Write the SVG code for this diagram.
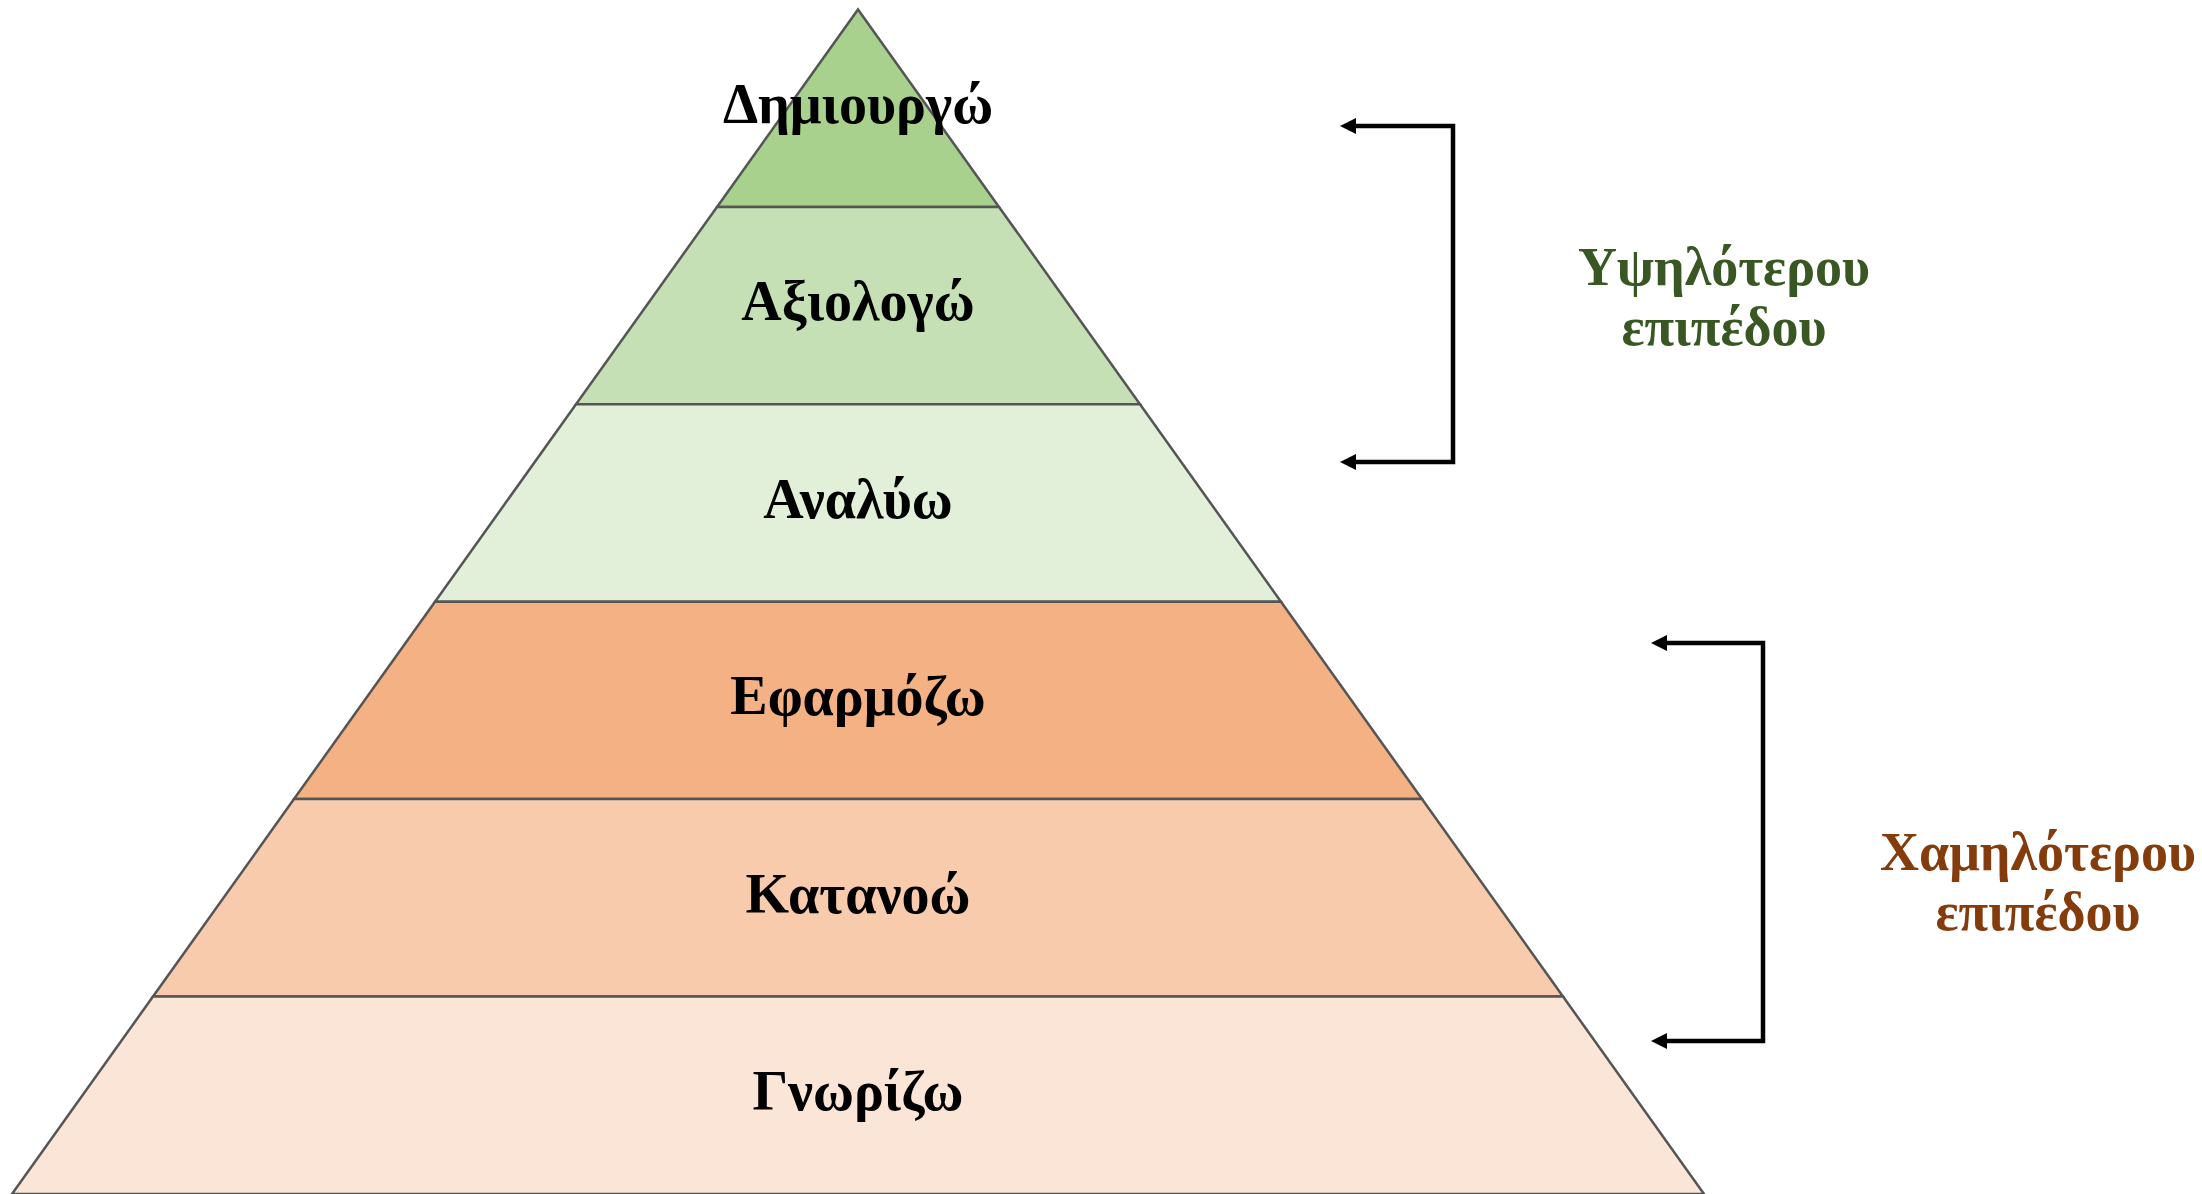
<svg xmlns="http://www.w3.org/2000/svg" width="2202" height="1194" viewBox="0 0 2202 1194">
<style>
.layer{stroke:#555555;stroke-width:2.5;stroke-linejoin:miter}
.lbl{font-family:"Liberation Serif","Times New Roman",serif;font-weight:bold;font-size:56px;text-anchor:middle;fill:#000}
.side{font-family:"Liberation Serif","Times New Roman",serif;font-weight:bold;font-size:54px;text-anchor:middle}
.br{fill:none;stroke:#000;stroke-width:4.5;stroke-linejoin:miter}
</style>
<defs>
<marker id="ah" viewBox="0 0 16 16" refX="2" refY="8" markerWidth="16" markerHeight="16" markerUnits="userSpaceOnUse" orient="auto">
<path d="M0,0 L16,8 L0,16 z" fill="#000"/>
</marker>
</defs>
<rect width="2202" height="1194" fill="#fff"/>
<g id="layer-1">
<polygon class="layer" fill="#A9D18E" points="858,9.5 999,206.9 717,206.9"/>
<text class="lbl" x="858" y="123">Δημιουργώ</text>
</g>
<g id="layer-2">
<polygon class="layer" fill="#C5E0B4" points="717,206.9 999,206.9 1140,404.3 576,404.3"/>
<text class="lbl" x="858" y="320">Αξιολογώ</text>
</g>
<g id="layer-3">
<polygon class="layer" fill="#E2F0D9" points="576,404.3 1140,404.3 1281,601.7 435,601.7"/>
<text class="lbl" x="858" y="518">Αναλύω</text>
</g>
<g id="layer-4">
<polygon class="layer" fill="#F4B183" points="435,601.7 1281,601.7 1422,799.1 294,799.1"/>
<text class="lbl" x="858" y="715">Εφαρμόζω</text>
</g>
<g id="layer-5">
<polygon class="layer" fill="#F8CBAD" points="294,799.1 1422,799.1 1563,996.5 153,996.5"/>
<text class="lbl" x="858" y="913">Κατανοώ</text>
</g>
<g id="layer-6">
<polygon class="layer" fill="#FBE5D6" points="153,996.5 1563,996.5 1704,1194 12,1194"/>
<text class="lbl" x="858" y="1110">Γνωρίζω</text>
</g>
<g id="label-high">
<text class="side" fill="#385723" x="1724" y="285">Υψηλότερου</text>
<text class="side" fill="#385723" x="1724" y="345">επιπέδου</text>
</g>
<g id="label-low">
<text class="side" fill="#843C0C" x="2038" y="870">Χαμηλότερου</text>
<text class="side" fill="#843C0C" x="2038" y="930">επιπέδου</text>
</g>
<g id="connectors">
<path class="br" d="M1453,294 V126 H1354" marker-end="url(#ah)"/>
<path class="br" d="M1453,294 V462 H1354" marker-end="url(#ah)"/>
<path class="br" d="M1763,840 V643 H1665" marker-end="url(#ah)"/>
<path class="br" d="M1763,840 V1041 H1665" marker-end="url(#ah)"/>
</g>
</svg>
